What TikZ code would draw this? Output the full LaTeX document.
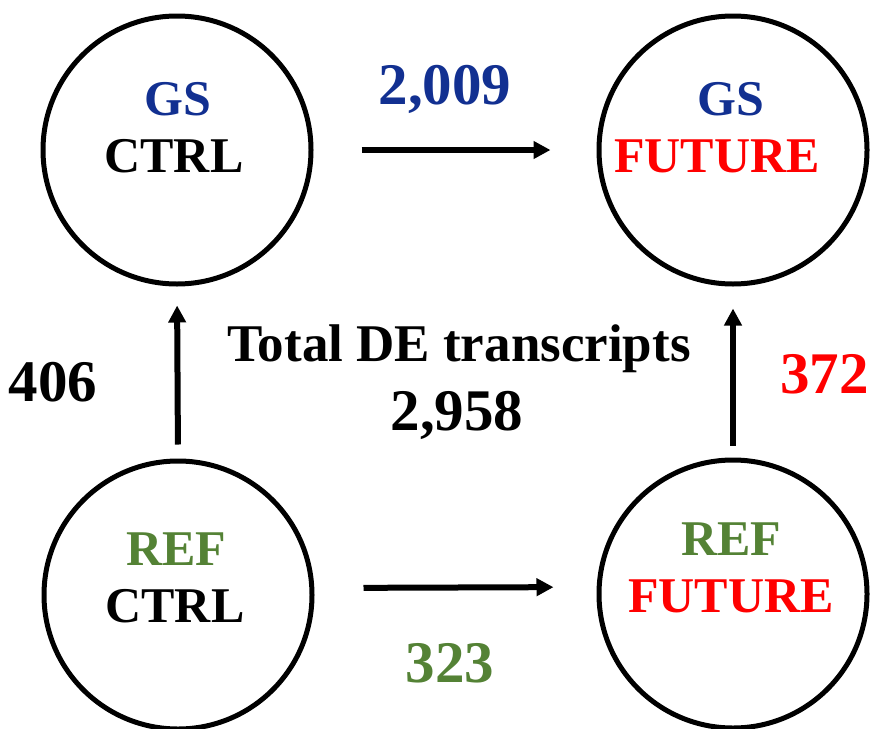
\documentclass[tikz,border=0pt]{standalone}
\usepackage{fontspec}
\setmainfont{Liberation Serif}
\usetikzlibrary{arrows.meta}
\definecolor{gsblue}{RGB}{18,48,145}
\definecolor{futred}{RGB}{255,0,0}
\definecolor{refgreen}{RGB}{84,130,53}
\tikzset{
  ring/.style={circle,draw=black,line width=5pt,minimum size=268pt,inner sep=0pt},
  arr/.style={line width=6pt,-{Triangle[length=17pt,width=17pt]}},
  lbl/.style={font=\bfseries\fontsize{50}{54}\selectfont,anchor=base,inner sep=0pt},
  num/.style={font=\bfseries\fontsize{59}{62}\selectfont,anchor=base,inner sep=0pt},
  ttl/.style={font=\bfseries\fontsize{53}{56}\selectfont,anchor=base,inner sep=0pt}
}
\begin{document}
\begin{tikzpicture}[x=1pt,y=-1pt]
\useasboundingbox (0,0) rectangle (872,728);
\node[ring] (TL) at (177,150) {};
\node[ring] (TR) at (733,150) {};
\node[ring] (BL) at (178,595) {};
\node[ring] (BR) at (733,594) {};
% circle labels
\node[lbl,text=gsblue] (tlgs) at (178,115) {GS};
\node[lbl] (tlctrl) at (174,172) {CTRL};
\node[lbl,text=gsblue] (trgs) at (731,115) {GS};
\node[lbl,text=futred] (trfut) at (717,172) {FUTURE};
\node[lbl,text=refgreen] (blref) at (176,565) {REF};
\node[lbl] (blctrl) at (175,622) {CTRL};
\node[lbl,text=refgreen] (brref) at (731,555) {REF};
\node[lbl,text=futred] (brfut) at (731,612) {FUTURE};
% numbers
\node[num,text=gsblue] (n2009) at (445,104) {2,009};
\node[num] (n406) at (53,401) {406};
\node[num,text=futred,anchor=base east] (n372) at (869,393) {372};
\node[num,text=refgreen] (n323) at (450,682) {323};
\node[ttl] (total) at (459,361) {Total DE transcripts};
\node[num] (n2958) at (457,430) {2,958};
% arrows
\draw[arr,shorten <=48pt,shorten >=46pt] (TL.east) -- (TR.west);
\draw[arr,shorten <=49pt,shorten >=43pt] ([yshift=7pt]BL.east) -- ([yshift=7pt]BR.west);
\draw[arr,shorten <=14pt,shorten >=19pt] (BL.north) -- (TL.south);
\draw[arr,shorten <=12pt,shorten >=22pt] (BR.north) -- (TR.south);
\end{tikzpicture}
\end{document}
